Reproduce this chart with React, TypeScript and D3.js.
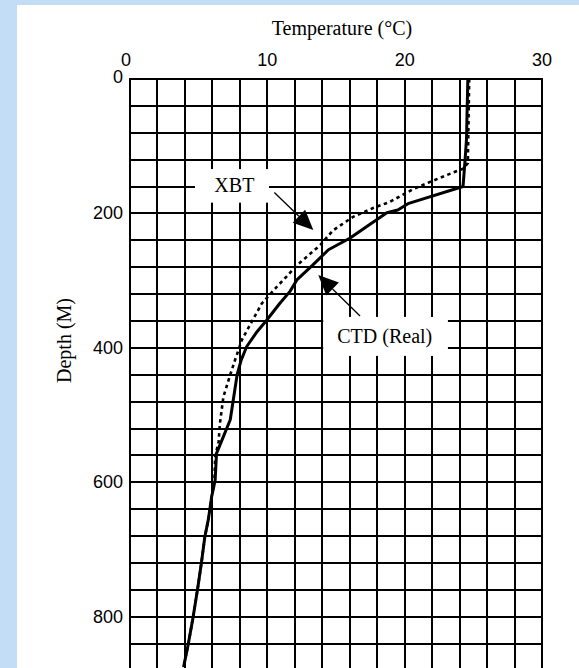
import React, { useEffect, useRef } from "react";
import * as d3 from "d3";

// axis ticks
const tempTicks = [0, 10, 20, 30];
const depthTicks = [0, 200, 400, 600, 800];

// CTD (real) profile
const ctdDepth = [0, 90, 120, 160, 185, 195, 199, 237, 254, 277, 299, 316, 334, 359, 376, 398, 418, 440, 507, 532, 557, 597, 621, 656, 681, 720, 755, 800, 840, 875];
const ctdTemp = [24.6, 24.5, 24.4, 24.25, 20.3, 19.5, 18.7, 16.0, 14.45, 13.3, 12.15, 11.65, 10.9, 9.95, 9.25, 8.5, 8.1, 7.8, 7.3, 6.8, 6.3, 6.2, 5.95, 5.7, 5.45, 5.2, 4.95, 4.6, 4.25, 3.9];

// XBT profile
const xbtDepth = [0, 125, 133, 139, 151, 164, 183, 192, 205, 225, 247, 264, 277, 294, 309, 334, 371, 388, 418, 440, 473, 512, 540, 562, 597, 621, 656, 681, 720, 755, 800, 840, 875];
const xbtTemp = [24.7, 24.6, 24.3, 23.55, 22.1, 20.6, 18.9, 17.7, 16.25, 14.8, 13.85, 12.9, 12.15, 11.4, 10.7, 9.6, 8.6, 8.15, 7.65, 7.3, 6.8, 6.55, 6.45, 6.2, 6.15, 5.95, 5.7, 5.45, 5.2, 4.95, 4.6, 4.25, 3.9];

const W = 579;
const H = 668;
const serif = "'Liberation Serif', 'Times New Roman', serif";
const sans = "'Liberation Sans', Arial, sans-serif";

export default function App() {
  const svgRef = useRef<SVGSVGElement>(null);

  useEffect(() => {
    const svg = d3.select(svgRef.current);
    svg.selectAll("*").remove();

    const x = d3.scaleLinear().domain([0, 30]).range([130, 542]);
    const y = d3.scaleLinear().domain([0, 800]).range([79, 616.7]);

    // page background
    svg.append("rect").attr("width", W).attr("height", H).attr("fill", "#c4ddf6");
    svg.append("rect").attr("x", 17).attr("y", 5).attr("width", W - 17).attr("height", H - 5).attr("fill", "#fff");

    // grid (2 deg x 40 m)
    const grid = svg.append("g").attr("stroke", "#000").attr("stroke-width", 2);
    d3.range(0, 31, 2).forEach((t) => {
      const px = Math.round(x(t));
      grid.append("line").attr("x1", px).attr("x2", px).attr("y1", Math.round(y(0)) - 1).attr("y2", H + 10);
    });
    d3.range(0, 920, 40).forEach((d) => {
      const py = Math.round(y(d));
      grid.append("line").attr("x1", Math.round(x(0))).attr("x2", Math.round(x(30)) + 1).attr("y1", py).attr("y2", py);
    });

    // ticks
    svg.append("g")
      .selectAll("text")
      .data(tempTicks)
      .join("text")
      .attr("x", (t) => x(t) - (t === 0 ? 4 : 0))
      .attr("y", 66)
      .attr("text-anchor", "middle")
      .attr("font-family", sans)
      .attr("font-size", 18)
      .text((t) => t);

    svg.append("g")
      .selectAll("text")
      .data(depthTicks)
      .join("text")
      .attr("x", 123)
      .attr("y", (d) => y(d) - (d === 0 ? 2 : 0))
      .attr("text-anchor", "end")
      .attr("dominant-baseline", "central")
      .attr("font-family", sans)
      .attr("font-size", 18)
      .text((d) => d);

    // axis titles
    svg.append("text")
      .attr("x", 342)
      .attr("y", 35)
      .attr("text-anchor", "middle")
      .attr("font-family", serif)
      .attr("font-size", 20)
      .text("Temperature (°C)");

    svg.append("text")
      .attr("transform", "translate(70.5,340.5) rotate(-90)")
      .attr("text-anchor", "middle")
      .attr("font-family", serif)
      .attr("font-size", 20)
      .text("Depth (M)");

    // profiles
    const line = d3.line<[number, number]>().x((p) => x(p[1])).y((p) => y(p[0]));

    svg.append("path")
      .attr("d", line(xbtDepth.map((d, i) => [d, xbtTemp[i]])))
      .attr("fill", "none")
      .attr("stroke", "#000")
      .attr("stroke-width", 2.6)
      .attr("stroke-dasharray", "3.5 3.5");

    svg.append("path")
      .attr("d", line(ctdDepth.map((d, i) => [d, ctdTemp[i]])))
      .attr("fill", "none")
      .attr("stroke", "#000")
      .attr("stroke-width", 3)
      .attr("stroke-linejoin", "round");

    // label boxes that knock out the grid
    const labels = [
      { text: "XBT", t0: 4.73, t1: 10.12, d0: 134, d1: 184, tx: 7.6, ty: 167.5, from: [10.51, 169], to: [13.35, 224.7] },
      { text: "CTD (Real)", t0: 14.07, t1: 23.15, d0: 354, d1: 412, tx: 18.55, ty: 393, from: [16.75, 352.6], to: [13.71, 291.6] },
    ];

    labels.forEach((l) => {
      svg.append("rect")
        .attr("x", x(l.t0))
        .attr("y", y(l.d0))
        .attr("width", x(l.t1) - x(l.t0))
        .attr("height", y(l.d1) - y(l.d0))
        .attr("fill", "#fff");
      svg.append("text")
        .attr("x", x(l.tx))
        .attr("y", y(l.ty))
        .attr("text-anchor", "middle")
        .attr("font-family", serif)
        .attr("font-size", 20)
        .text(l.text);

      // arrow with a filled head
      const sx = x(l.from[0]), sy = y(l.from[1]);
      const ex = x(l.to[0]), ey = y(l.to[1]);
      const len = Math.hypot(ex - sx, ey - sy);
      const ux = (ex - sx) / len, uy = (ey - sy) / len;
      const hl = 20, hw = 9;
      const bx = ex - ux * hl, by = ey - uy * hl;
      svg.append("line")
        .attr("x1", sx).attr("y1", sy).attr("x2", bx).attr("y2", by)
        .attr("stroke", "#000").attr("stroke-width", 1.3);
      svg.append("path")
        .attr("d", `M${ex},${ey}L${bx - uy * hw},${by + ux * hw}L${bx + uy * hw},${by - ux * hw}Z`)
        .attr("fill", "#000");
    });
  }, []);

  return (
    <svg
      ref={svgRef}
      width={W}
      height={H}
      style={{ position: "absolute", left: 0, top: 0, display: "block" }}
    />
  );
}
